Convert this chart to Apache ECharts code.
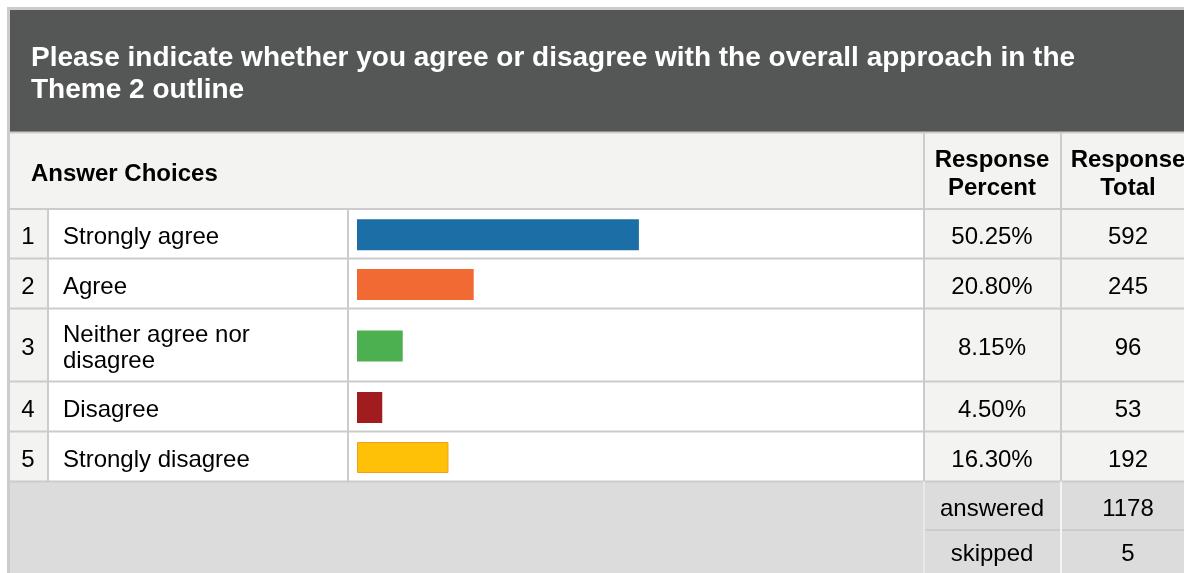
<!DOCTYPE html>
<html>
<head>
<meta charset="utf-8">
<script src="https://cdn.jsdelivr.net/npm/echarts@6/dist/echarts.min.js"></script>
<style>
  html, body { margin: 0; padding: 0; background: #ffffff; }
  #chart { width: 1184px; height: 573px; }
</style>
</head>
<body>
<div id="chart"></div>
<script>
// Survey question and answer data
const title = 'Please indicate whether you agree or disagree with the overall approach in the\nTheme 2 outline';
const categories = ['Strongly agree', 'Agree', 'Neither agree nor\ndisagree', 'Disagree', 'Strongly disagree'];
const percents = [50.25, 20.80, 8.15, 4.50, 16.30];
const totals = [592, 245, 96, 53, 192];
const answered = 1178;
const skipped = 5;
const barColors = ['#1c6fa6', '#f26a33', '#4caf50', '#a11c1f', '#ffc107'];

// Table layout
const FONT = '"Liberation Sans", Arial, sans-serif';
const BORDER = '#cccccc';
const LIGHT = '#f3f3f2';
const X_LEFT = 9, X_IDX = 48, X_LABEL = 348, X_PCT = 924, X_TOT = 1061, X_RIGHT = 1200;
const Y_TOP = 9, Y_HEAD = 132, Y_COLHEAD = 209;
const rowEdges = [209, 258.5, 308.5, 381.5, 431.5, 481.5];
const Y_ANS = 530, Y_BOTTOM = 580;
const BAR_LEFT = 357, BAR_WIDTH = 561;
const TEXT_DY = 2.5;

const graphics = [];
function rect(x, y, w, h, fill, z) {
  graphics.push({ type: 'rect', z: z || 0, silent: true, shape: { x, y, width: w, height: h }, style: { fill } });
}
function hline(x1, x2, y, color, w) {
  graphics.push({ type: 'line', z: 1, silent: true, shape: { x1, y1: y, x2, y2: y }, style: { stroke: color, lineWidth: w || 2 } });
}
function vline(x, y1, y2, color, w) {
  graphics.push({ type: 'line', z: 1, silent: true, shape: { x1: x, y1, x2: x, y2 }, style: { stroke: color, lineWidth: w || 2 } });
}
function text(str, x, y, opts) {
  graphics.push({
    type: 'text', z: 3, silent: true, x, y: y + TEXT_DY,
    style: Object.assign({
      text: str, fill: '#000000', font: '24px ' + FONT,
      align: 'left', verticalAlign: 'middle'
    }, opts || {})
  });
}

// outer frame
rect(X_LEFT - 2, Y_TOP - 2, X_RIGHT, Y_BOTTOM, BORDER);
// title band
rect(X_LEFT + 1, Y_TOP + 1, X_RIGHT, Y_HEAD - Y_TOP - 1, '#555756');
// column header band
rect(X_LEFT + 1, Y_HEAD + 1, X_RIGHT, Y_COLHEAD - Y_HEAD - 1, LIGHT);
// body rows
for (let i = 0; i < categories.length; i++) {
  const y0 = rowEdges[i], y1 = rowEdges[i + 1];
  rect(X_LEFT + 1, y0, X_IDX - X_LEFT - 1, y1 - y0, LIGHT);
  rect(X_IDX, y0, X_PCT - X_IDX, y1 - y0, '#ffffff');
  rect(X_PCT, y0, X_RIGHT, y1 - y0, LIGHT);
}
// summary block
rect(X_LEFT + 1, rowEdges[5], X_RIGHT, Y_BOTTOM - rowEdges[5], '#dcdcdc');

// grid lines
hline(X_LEFT, X_RIGHT, Y_HEAD + 0.5, BORDER, 2);
rowEdges.forEach(y => hline(X_LEFT, X_RIGHT, y, BORDER, 2));
hline(X_PCT, X_RIGHT, Y_ANS, BORDER, 2);
vline(X_PCT, Y_HEAD + 1, rowEdges[5], BORDER, 2);
vline(X_TOT, Y_HEAD + 1, rowEdges[5], BORDER, 2);
vline(X_IDX, rowEdges[0], rowEdges[5], BORDER, 2);
vline(X_LABEL, rowEdges[0], rowEdges[5], BORDER, 2);
vline(X_PCT, rowEdges[5], Y_BOTTOM, '#e8e8e8', 2);
vline(X_TOT, rowEdges[5], Y_BOTTOM, '#f4f4f4', 2);

// texts
text(title, 31, 72, { fill: '#ffffff', font: 'bold 28px ' + FONT, lineHeight: 32 });
text('Answer Choices', 31, 172, { font: 'bold 24px ' + FONT });
text('Response\nPercent', 992, 172, { font: 'bold 24px ' + FONT, align: 'center', lineHeight: 28 });
text('Response\nTotal', 1128, 172, { font: 'bold 24px ' + FONT, align: 'center', lineHeight: 28 });

for (let i = 0; i < categories.length; i++) {
  const cy = (rowEdges[i] + rowEdges[i + 1]) / 2 + 1;
  text(String(i + 1), 28, cy, { align: 'center' });
  text(categories[i], 63, cy, { lineHeight: 26 });
  text(percents[i].toFixed(2) + '%', 992, cy, { align: 'center' });
  text(String(totals[i]), 1128, cy, { align: 'center' });
}
text('answered', 992, (rowEdges[5] + Y_ANS) / 2 + 1, { align: 'center' });
text(String(answered), 1128, (rowEdges[5] + Y_ANS) / 2 + 1, { align: 'center' });
text('skipped', 992, 552, { align: 'center' });
text(String(skipped), 1128, 552, { align: 'center' });

// one grid per answer row so each bar sits in its own table row
const BAR_H = 31;
const grids = [], xAxes = [], yAxes = [], series = [];
categories.forEach((c, i) => {
  const cy = (rowEdges[i] + rowEdges[i + 1]) / 2 + 1;
  grids.push({ left: BAR_LEFT, width: BAR_WIDTH, top: cy - BAR_H / 2, height: BAR_H, containLabel: false });
  xAxes.push({ gridIndex: i, type: 'value', min: 0, max: 100, show: false });
  yAxes.push({ gridIndex: i, type: 'category', data: [c], show: false });
  series.push({
    type: 'bar', xAxisIndex: i, yAxisIndex: i, z: 5,
    data: [percents[i]], barWidth: BAR_H, animation: false, silent: true,
    itemStyle: i === 4
      ? { color: barColors[i], borderColor: '#f0a020', borderWidth: 1 }
      : { color: barColors[i] }
  });
});

const chart = echarts.init(document.getElementById('chart'), null, { renderer: 'canvas' });
chart.setOption({
  animation: false,
  grid: grids,
  xAxis: xAxes,
  yAxis: yAxes,
  series: series,
  graphic: { elements: graphics }
});
</script>
</body>
</html>
